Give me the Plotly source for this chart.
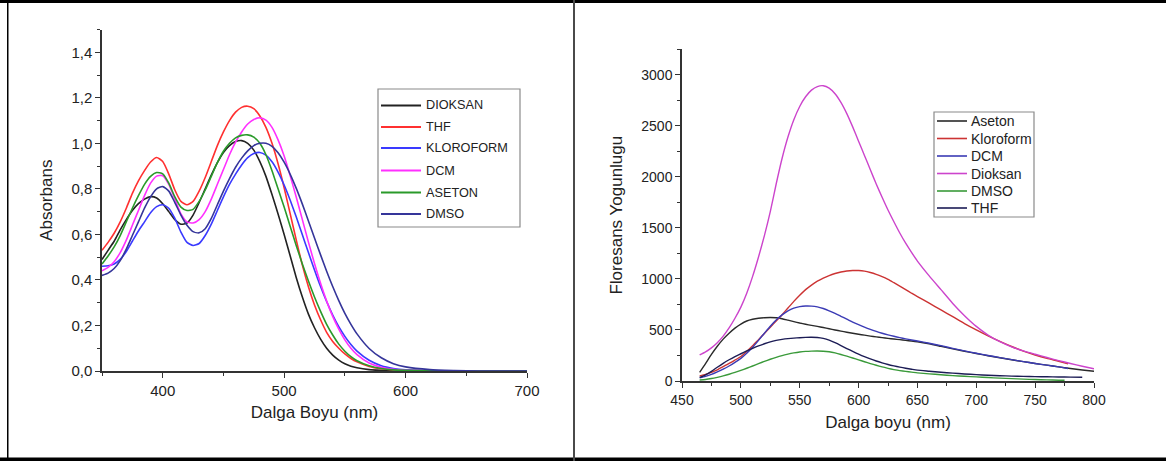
import plotly.graph_objects as go

# ---------------- Absorption (left) ----------------
ABS_WL = [350, 355, 360, 365, 370, 375, 380, 385, 390, 395,
          400, 405, 410, 415, 420, 425, 430, 435, 440, 445,
          450, 455, 460, 465, 470, 475, 480, 485, 490, 495,
          500, 505, 510, 515, 520, 525, 530, 535, 540, 545,
          550, 555, 560, 570, 580, 590, 600, 620, 640, 660, 700]

abs_dioksan = [0.49, 0.53, 0.57, 0.62, 0.665, 0.705, 0.735, 0.755, 0.766, 0.76,
               0.735, 0.70, 0.665, 0.645, 0.65, 0.685, 0.74, 0.80, 0.86, 0.915,
               0.96, 0.99, 1.008, 1.012, 1.0, 0.97, 0.92, 0.855, 0.775, 0.69,
               0.60, 0.505, 0.41, 0.325, 0.25, 0.19, 0.14, 0.10, 0.07, 0.048,
               0.032, 0.021, 0.014, 0.006, 0.003, 0.001, 0.0, 0.0, 0.0, 0.0, 0.0]
abs_thf = [0.53, 0.565, 0.605, 0.655, 0.715, 0.78, 0.835, 0.88, 0.918, 0.938,
           0.92, 0.865, 0.795, 0.745, 0.73, 0.745, 0.79, 0.85, 0.92, 0.99,
           1.05, 1.10, 1.137, 1.158, 1.163, 1.152, 1.12, 1.07, 1.0, 0.91,
           0.805, 0.69, 0.575, 0.465, 0.37, 0.29, 0.225, 0.17, 0.13, 0.10,
           0.075, 0.055, 0.04, 0.02, 0.01, 0.005, 0.003, 0.001, 0.0, 0.0, 0.0]
abs_kloroform = [0.46, 0.462, 0.47, 0.49, 0.525, 0.57, 0.615, 0.655, 0.695, 0.722,
                 0.73, 0.715, 0.67, 0.61, 0.565, 0.551, 0.56, 0.595, 0.645, 0.705,
                 0.765, 0.82, 0.865, 0.905, 0.937, 0.955, 0.96, 0.948, 0.919, 0.874,
                 0.817, 0.75, 0.676, 0.598, 0.52, 0.444, 0.371, 0.305, 0.246, 0.195,
                 0.152, 0.116, 0.087, 0.047, 0.023, 0.011, 0.005, 0.001, 0.0, 0.0, 0.0]
abs_dcm = [0.44, 0.455, 0.48, 0.52, 0.575, 0.64, 0.705, 0.77, 0.825, 0.856,
           0.858, 0.82, 0.755, 0.69, 0.655, 0.65, 0.665, 0.70, 0.755, 0.82,
           0.885, 0.95, 1.005, 1.05, 1.085, 1.105, 1.112, 1.102, 1.07, 1.015,
           0.944, 0.857, 0.763, 0.665, 0.566, 0.472, 0.385, 0.307, 0.24, 0.184,
           0.137, 0.10, 0.072, 0.035, 0.016, 0.007, 0.003, 0.001, 0.0, 0.0, 0.0]
abs_aseton = [0.47, 0.505, 0.545, 0.595, 0.655, 0.715, 0.77, 0.82, 0.855, 0.872,
              0.866, 0.825, 0.765, 0.72, 0.705, 0.71, 0.745, 0.795, 0.855, 0.915,
              0.965, 1.0, 1.024, 1.035, 1.037, 1.027, 1.0, 0.95, 0.88, 0.80,
              0.72, 0.635, 0.55, 0.47, 0.395, 0.325, 0.262, 0.205, 0.158, 0.118,
              0.087, 0.063, 0.045, 0.023, 0.011, 0.005, 0.003, 0.001, 0.0, 0.0, 0.0]
abs_dmso = [0.42, 0.43, 0.45, 0.485, 0.535, 0.595, 0.655, 0.715, 0.765, 0.80,
            0.81, 0.79, 0.74, 0.685, 0.64, 0.612, 0.607, 0.625, 0.67, 0.73,
            0.79, 0.845, 0.895, 0.935, 0.967, 0.99, 1.0, 1.0, 0.987, 0.959,
            0.917, 0.864, 0.802, 0.733, 0.659, 0.584, 0.51, 0.438, 0.371, 0.309,
            0.253, 0.205, 0.163, 0.099, 0.058, 0.032, 0.018, 0.006, 0.002, 0.0, 0.0]

ABS_NAMES = ["DIOKSAN", "THF", "KLOROFORM", "DCM", "ASETON", "DMSO"]
ABS_SERIES = [abs_dioksan, abs_thf, abs_kloroform, abs_dcm, abs_aseton, abs_dmso]
ABS_COLORS = ["#222222", "#ff3030", "#3a3aff", "#ff30ff", "#2a9a2a", "#35359a"]

# ---------------- Fluorescence (right) ----------------
FL_WL = [465, 470, 475, 480, 485, 490, 495, 500, 505, 510,
         515, 520, 525, 530, 535, 540, 545, 550, 555, 560,
         565, 570, 575, 580, 585, 590, 595, 600, 605, 610,
         615, 620, 625, 630, 635, 640, 645, 650,
         660, 670, 680, 690, 700, 710, 720, 730, 740, 750,
         760, 770, 780, 790, 800]

fl_aseton = [85, 170, 260, 340, 410, 468, 518, 558, 588, 605,
             615, 620, 622, 620, 610, 596, 582, 568, 556, 545,
             535, 524, 512, 500, 489, 478, 468, 458, 449, 440,
             432, 425, 418, 411, 405, 398, 392, 385,
             365, 340, 315, 292, 270, 248, 228, 208, 190, 172,
             155, 138, 122, 108, 95]
fl_kloroform = [50, 65, 85, 110, 140, 172, 205, 240, 290, 345,
                405, 465, 527, 588, 650, 715, 780, 840, 895, 940,
                978, 1008, 1033, 1053, 1068, 1078, 1083, 1082, 1076, 1063,
                1045, 1022, 995, 963, 930, 895, 860, 827,
                762, 697, 630, 562, 500, 442, 388, 338, 293, 255,
                222, 193, 168]
fl_dcm = [30, 45, 65, 90, 117, 147, 182, 222, 272, 330,
          398, 468, 537, 598, 648, 688, 714, 729, 735, 734,
          726, 710, 688, 662, 634, 606, 578, 552, 528, 506,
          486, 468, 452, 438, 425, 413, 402, 392,
          370, 346, 320, 295, 272, 250, 229, 209, 190, 172,
          155, 138, 122]
fl_dioksan = [255, 285, 325, 375, 440, 520, 615, 724, 860, 1025,
              1215, 1425, 1660, 1930, 2180, 2390, 2560, 2690, 2785, 2850,
              2885, 2893, 2870, 2815, 2730, 2620, 2490, 2350, 2210, 2070,
              1930, 1800, 1675, 1560, 1450, 1350, 1260, 1175,
              1030, 895, 760, 640, 535, 450, 385, 335, 295, 262,
              230, 200, 172, 145, 120]
fl_dmso = [10, 15, 24, 36, 50, 66, 84, 104, 125, 147,
           170, 192, 213, 232, 249, 263, 275, 284, 290, 293,
           294, 292, 286, 275, 260, 243, 225, 207, 189, 171,
           154, 138, 124, 112, 102, 94, 87, 80,
           70, 61, 53, 46, 40, 34, 28, 23, 18, 14,
           11, 8, 7]
fl_thf = [35, 60, 95, 135, 173, 208, 240, 267, 294, 320,
          344, 365, 384, 398, 408, 415, 420, 424, 427, 428,
          426, 417, 400, 375, 347, 318, 290, 263, 238, 216,
          196, 178, 162, 148, 136, 125, 115, 106,
          96, 86, 77, 69, 62, 56, 52, 48, 45, 43,
          41, 39, 38, 37]

FL_NAMES = ["Aseton", "Kloroform", "DCM", "Dioksan", "DMSO", "THF"]
FL_SERIES = [fl_aseton, fl_kloroform, fl_dcm, fl_dioksan, fl_dmso, fl_thf]
FL_END_WL = [800, 778, 778, 800, 775, 790]
FL_COLORS = ["#2a2a2a", "#cc3333", "#3b3bb5", "#cc44cc", "#3a9a3a", "#1c1c55"]

W, H = 1166, 461


def px(x):
    return x / W


def py(y):
    return 1 - y / H


fig = go.Figure()

for name, vals, col in zip(ABS_NAMES, ABS_SERIES, ABS_COLORS):
    fig.add_trace(go.Scatter(x=ABS_WL, y=vals, name=name, mode="lines",
                             line=dict(color=col, width=1.6, shape="spline", smoothing=0.6),
                             xaxis="x", yaxis="y", showlegend=False))

for name, vals, end, col in zip(FL_NAMES, FL_SERIES, FL_END_WL, FL_COLORS):
    xs = FL_WL[:len(vals)]
    xs[-1] = end
    fig.add_trace(go.Scatter(x=xs, y=vals, name=name, mode="lines",
                             line=dict(color=col, width=1.4, shape="spline", smoothing=0.6),
                             xaxis="x2", yaxis="y2", showlegend=False))

FONT = "Liberation Sans, Arial, sans-serif"
AX = "#333333"

common_axis = dict(showgrid=False, zeroline=False, showline=True, linecolor=AX, linewidth=1.5,
                   ticks="outside", ticklen=5, tickwidth=1.3, tickcolor=AX, automargin=False)

fig.update_layout(
    width=W, height=H, margin=dict(l=0, r=0, t=0, b=0, pad=0, autoexpand=False),
    paper_bgcolor="white", plot_bgcolor="white",
    separators=",.",
    font=dict(family=FONT, color="#222222"),
    xaxis=dict(domain=[px(102), px(527)], range=[350, 700], tick0=400, dtick=100,
               tickfont=dict(size=15), anchor="y",
               minor=dict(dtick=50, ticks="outside", ticklen=3, tickcolor=AX, tickwidth=1.2),
               title=dict(text="Dalga Boyu (nm)", font=dict(size=17), standoff=8),
               **common_axis),
    yaxis=dict(domain=[py(371), py(29.5)], range=[0, 1.5], tick0=0, dtick=0.2, tickformat=".1f",
               tickfont=dict(size=15), anchor="x",
               minor=dict(dtick=0.1, ticks="outside", ticklen=3, tickcolor=AX, tickwidth=1.2),
               title=dict(text="Absorbans", font=dict(size=17), standoff=14),
               **common_axis),
    xaxis2=dict(domain=[px(682), px(1094)], range=[450, 800], tick0=450, dtick=50,
                tickfont=dict(size=14), anchor="y2",
                minor=dict(dtick=25, ticks="outside", ticklen=3, tickcolor=AX, tickwidth=1.2),
                title=dict(text="Dalga boyu (nm)", font=dict(size=17), standoff=10),
                **common_axis),
    yaxis2=dict(domain=[py(381), py(49.3)], range=[0, 3250], tick0=0, dtick=500,
                tickfont=dict(size=14), anchor="x2",
                minor=dict(dtick=250, ticks="outside", ticklen=3, tickcolor=AX, tickwidth=1.2),
                title=dict(text="Floresans Yogunlugu", font=dict(size=17), standoff=14),
                **common_axis),
)

shapes = []
annotations = []

# outer frame pieces
shapes.append(dict(type="rect", xref="paper", yref="paper", x0=0, x1=1, y0=py(3), y1=1,
                   fillcolor="black", line=dict(width=0), layer="above"))
shapes.append(dict(type="rect", xref="paper", yref="paper", x0=0, x1=1, y0=0, y1=py(457.5),
                   fillcolor="black", line=dict(width=0), layer="above"))
shapes.append(dict(type="rect", xref="paper", yref="paper", x0=px(7), x1=px(8.5), y0=0, y1=1,
                   fillcolor="black", line=dict(width=0), layer="above"))
shapes.append(dict(type="rect", xref="paper", yref="paper", x0=px(573), x1=px(575), y0=0, y1=1,
                   fillcolor="#4a4a4a", line=dict(width=0), layer="above"))

# left legend
shapes.append(dict(type="rect", xref="paper", yref="paper", x0=px(378), x1=px(520),
                   y0=py(227), y1=py(89), line=dict(color="#8a8a8a", width=1.2), fillcolor="white",
                   layer="above"))
left_rows = [105.5, 127, 148, 170.5, 192.5, 214]
for name, col, ry in zip(ABS_NAMES, ABS_COLORS, left_rows):
    shapes.append(dict(type="line", xref="paper", yref="paper", x0=px(381), x1=px(421),
                       y0=py(ry), y1=py(ry), line=dict(color=col, width=2), layer="above"))
    annotations.append(dict(xref="paper", yref="paper", x=px(424), y=py(ry), text=name,
                            showarrow=False, xanchor="left", yanchor="middle",
                            font=dict(size=12.7, color="#222222", family=FONT)))

# right legend
shapes.append(dict(type="rect", xref="paper", yref="paper", x0=px(934), x1=px(1034),
                   y0=py(217), y1=py(112), line=dict(color="#8a8a8a", width=1.2), fillcolor="white",
                   layer="above"))
right_rows = [121, 138.5, 156, 173.5, 191, 208]
for name, col, ry in zip(FL_NAMES, FL_COLORS, right_rows):
    shapes.append(dict(type="line", xref="paper", yref="paper", x0=px(937), x1=px(967),
                       y0=py(ry), y1=py(ry), line=dict(color=col, width=1.6), layer="above"))
    annotations.append(dict(xref="paper", yref="paper", x=px(969), y=py(ry), text=name,
                            showarrow=False, xanchor="left", yanchor="middle",
                            font=dict(size=14, color="#222222", family=FONT)))

fig.update_layout(shapes=shapes, annotations=annotations)

fig.write_html("out.html", config={"displayModeBar": False},
               post_script="document.body.style.margin='0';document.body.style.overflow='hidden';")
